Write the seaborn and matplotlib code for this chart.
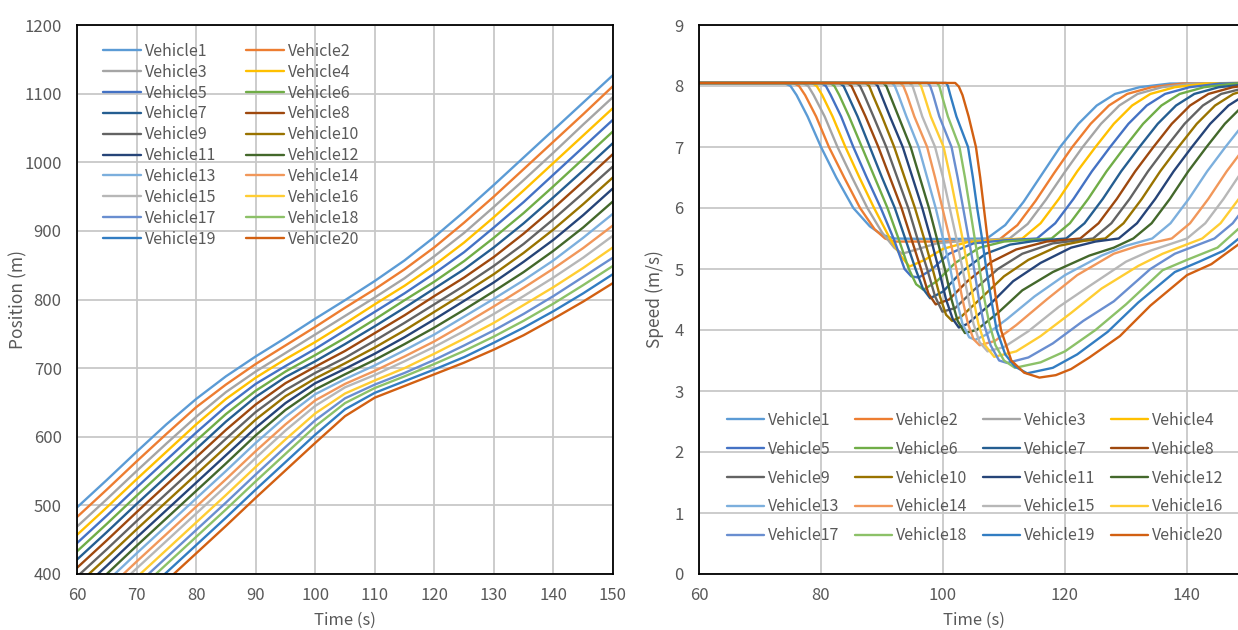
import numpy as np
import pandas as pd
import seaborn as sns
import matplotlib
matplotlib.use("Agg")
from matplotlib import pyplot as plt

# vehicle names and Excel-like colours
vehicles = ["Vehicle%d" % i for i in range(1, 21)]
colors = ["#5B9BD5", "#ED7D31", "#A5A5A5", "#FFC000", "#4472C4", "#70AD47",
          "#255E91", "#9E480E", "#636363", "#997300", "#264478", "#43682B",
          "#7CAFDD", "#F1975A", "#B7B7B7", "#FFCD33", "#698ED0", "#8CC168",
          "#327DC2", "#D26012"]

# position (m) read at these times (s)
pos_time = [60, 65, 70, 75, 80, 85, 90, 95, 100, 105, 110, 115, 120, 125,
            130, 135, 140, 145, 150]
position = [
    [497, 537, 578, 618, 655, 688, 717, 744, 772, 799, 827, 857, 891, 928, 967, 1007, 1047, 1087, 1127],
    [483, 523, 564, 604, 643, 676, 706, 733, 760, 788, 815, 844, 876, 912, 950, 990, 1030, 1070, 1111],
    [469, 509, 550, 590, 629, 665, 695, 722, 749, 776, 803, 831, 863, 897, 935, 974, 1014, 1055, 1095],
    [457, 497, 538, 578, 618, 655, 686, 713, 738, 765, 793, 820, 850, 883, 920, 959, 999, 1039, 1079],
    [445, 485, 526, 566, 606, 644, 677, 703, 728, 755, 782, 809, 838, 869, 905, 942, 982, 1022, 1062],
    [433, 473, 514, 554, 594, 633, 667, 695, 719, 744, 771, 799, 826, 856, 890, 926, 965, 1005, 1045],
    [421, 461, 502, 542, 582, 622, 658, 687, 710, 735, 761, 788, 816, 844, 876, 911, 949, 988, 1028],
    [409, 449, 490, 530, 570, 610, 647, 678, 702, 725, 751, 777, 805, 832, 862, 896, 933, 972, 1012],
    [396, 436, 477, 517, 557, 597, 636, 668, 693, 715, 740, 766, 793, 820, 849, 881, 917, 955, 994],
    [384, 424, 465, 505, 545, 585, 625, 659, 685, 707, 730, 755, 782, 809, 837, 868, 902, 939, 978],
    [372, 412, 453, 493, 533, 573, 613, 649, 678, 699, 721, 745, 771, 798, 825, 855, 887, 923, 962],
    [360, 400, 441, 481, 521, 561, 602, 639, 669, 691, 712, 735, 759, 785, 812, 840, 871, 905, 943],
    [349, 389, 430, 470, 510, 550, 591, 629, 662, 684, 704, 726, 749, 775, 801, 828, 857, 890, 925],
    [337, 377, 418, 458, 498, 538, 579, 618, 653, 677, 696, 717, 739, 764, 790, 817, 845, 875, 908],
    [327, 367, 408, 448, 488, 528, 569, 609, 645, 672, 690, 710, 731, 754, 779, 805, 832, 861, 893],
    [314, 354, 395, 435, 475, 515, 556, 596, 634, 663, 682, 700, 721, 743, 766, 792, 818, 846, 876],
    [303, 343, 384, 424, 464, 504, 545, 585, 624, 656, 676, 693, 712, 733, 755, 779, 805, 833, 861],
    [293, 333, 374, 414, 454, 494, 535, 575, 615, 649, 671, 688, 706, 725, 746, 769, 794, 821, 849],
    [281, 321, 362, 402, 442, 482, 523, 563, 603, 640, 664, 681, 698, 716, 737, 759, 783, 809, 837],
    [269, 309, 350, 390, 430, 470, 511, 551, 591, 630, 657, 674, 691, 708, 727, 748, 772, 797, 824],
]

# speed (m/s): (time, speed) points
speed = [
    [(60, 8.05), (74, 8.05), (75, 8.0), (76, 7.85), (77.8, 7.5), (80, 7.0), (82.5, 6.5), (85.3, 6.0), (88, 5.7), (90, 5.56), (92, 5.5), (100, 5.49), (107.2, 5.5), (110.2, 5.72), (113.2, 6.1), (116.2, 6.55), (119.2, 7.0), (122.2, 7.38), (125.2, 7.68), (128.2, 7.87), (132.2, 7.98), (137.2, 8.04), (150, 8.05)],
    [(60, 8.05), (75.5, 8.05), (76.4, 8.0), (77.4, 7.85), (79.2, 7.5), (81.3, 7.0), (83.8, 6.5), (86.4, 6.0), (88.8, 5.65), (90.5, 5.5), (92, 5.45), (100, 5.45), (109.2, 5.48), (112.2, 5.72), (115.2, 6.12), (118.2, 6.57), (121.2, 7.0), (124.2, 7.38), (127.2, 7.68), (130.2, 7.87), (134.2, 7.98), (139.2, 8.04), (150, 8.05)],
    [(60, 8.05), (77, 8.05), (77.9, 8.0), (78.8, 7.85), (80.6, 7.5), (82.7, 7.0), (85.1, 6.5), (87.6, 6.0), (90, 5.6), (92, 5.35), (93.3, 5.25), (96, 5.33), (99, 5.42), (103, 5.46), (110.9, 5.5), (113.9, 5.74), (116.9, 6.14), (119.9, 6.58), (122.9, 7.0), (125.9, 7.38), (128.9, 7.68), (131.9, 7.87), (135.9, 7.98), (140.9, 8.04), (150, 8.05)],
    [(60, 8.05), (78.5, 8.05), (79.3, 8.0), (80.2, 7.85), (81.9, 7.5), (84, 7.0), (86.3, 6.5), (88.7, 6.0), (91.3, 5.5), (93.2, 5.2), (94.5, 5.04), (97, 5.15), (100, 5.33), (104, 5.44), (113, 5.5), (116, 5.75), (119, 6.15), (122, 6.6), (125, 7.0), (128, 7.38), (131, 7.68), (134, 7.87), (138, 7.98), (143, 8.04), (150, 8.05)],
    [(60, 8.05), (80, 8.05), (80.8, 8.0), (81.6, 7.85), (83.3, 7.5), (85.3, 7.0), (87.5, 6.5), (89.8, 6.0), (91.9, 5.5), (93.7, 5.0), (94.8, 4.88), (96, 4.86), (98, 4.98), (101, 5.25), (105, 5.42), (110, 5.47), (115.4, 5.5), (118.4, 5.75), (121.4, 6.15), (124.4, 6.6), (127.4, 7.0), (130.4, 7.38), (133.4, 7.68), (136.4, 7.87), (140.4, 7.98), (145.4, 8.04), (150, 8.05)],
    [(60, 8.05), (81.5, 8.05), (82.2, 8.0), (83, 7.85), (84.6, 7.5), (86.7, 7.0), (88.8, 6.5), (90.9, 6.0), (92.7, 5.5), (94.4, 5.0), (95.6, 4.75), (96.8, 4.66), (99, 4.8), (102, 5.1), (106, 5.35), (110, 5.45), (117.8, 5.5), (120.8, 5.75), (123.8, 6.15), (126.8, 6.6), (129.8, 7.0), (132.8, 7.38), (135.8, 7.68), (138.8, 7.87), (142.8, 7.98), (147.8, 8.04), (150, 8.05)],
    [(60, 8.05), (83, 8.05), (83.7, 8.0), (84.4, 7.85), (86, 7.5), (88, 7.0), (90, 6.5), (92.1, 6.0), (93.8, 5.5), (95.5, 5.0), (96.7, 4.68), (97.9, 4.52), (100, 4.63), (103, 4.95), (107, 5.25), (111, 5.4), (115, 5.46), (120.2, 5.5), (123.2, 5.75), (126.2, 6.15), (129.2, 6.6), (132.2, 7.0), (135.2, 7.38), (138.2, 7.68), (141.2, 7.87), (145.2, 7.98), (150, 8.03)],
    [(60, 8.05), (84.3, 8.05), (85, 8.0), (85.7, 7.85), (87.3, 7.5), (89.4, 7.0), (91.3, 6.5), (93.2, 6.0), (94.8, 5.5), (96.4, 5.0), (97.6, 4.6), (98.8, 4.42), (101, 4.5), (104, 4.8), (108, 5.12), (112, 5.32), (117, 5.45), (122.5, 5.5), (125.5, 5.75), (128.5, 6.15), (131.5, 6.6), (134.5, 7.0), (137.5, 7.38), (140.5, 7.68), (143.5, 7.87), (147.5, 7.98), (150, 8.01)],
    [(60, 8.05), (85.8, 8.05), (86.4, 8.0), (87.1, 7.85), (88.6, 7.5), (90.7, 7.0), (92.5, 6.5), (94.3, 6.0), (95.8, 5.5), (97.4, 5.0), (98.7, 4.55), (99.9, 4.3), (102, 4.36), (105, 4.65), (109, 5.0), (113, 5.25), (118, 5.42), (124.6, 5.5), (127.6, 5.75), (130.6, 6.15), (133.6, 6.6), (136.6, 7.0), (139.6, 7.38), (142.6, 7.68), (145.6, 7.87), (150, 7.98)],
    [(60, 8.05), (87.3, 8.05), (87.9, 8.0), (88.5, 7.85), (90, 7.5), (92, 7.0), (93.7, 6.5), (95.4, 6.0), (96.9, 5.5), (98.3, 5.0), (99.5, 4.55), (100.5, 4.25), (101.5, 4.15), (103, 4.22), (106, 4.5), (110, 4.88), (114, 5.15), (119, 5.38), (123, 5.46), (126.6, 5.5), (129.6, 5.75), (132.6, 6.15), (135.6, 6.6), (138.6, 7.0), (141.6, 7.38), (144.6, 7.68), (147.6, 7.87), (150, 7.94)],
    [(60, 8.05), (88.8, 8.05), (89.3, 8.0), (89.9, 7.85), (91.3, 7.5), (93.4, 7.0), (95, 6.5), (96.6, 6.0), (98, 5.5), (99.3, 5.0), (100.5, 4.5), (101.6, 4.18), (102.6, 4.04), (104, 4.1), (107.5, 4.4), (111.5, 4.8), (116, 5.1), (121, 5.35), (125, 5.45), (128.8, 5.5), (131.8, 5.75), (134.8, 6.15), (137.8, 6.6), (140.8, 7.0), (143.8, 7.38), (146.8, 7.68), (149.8, 7.87), (150, 7.88)],
    [(60, 8.05), (90.2, 8.05), (90.7, 8.0), (91.3, 7.85), (92.7, 7.5), (94.7, 7.0), (96.2, 6.5), (97.7, 6.0), (99, 5.5), (100.3, 5.0), (101.4, 4.5), (102.4, 4.15), (103.6, 3.95), (105.5, 4.0), (109, 4.28), (113, 4.65), (118, 4.95), (124, 5.22), (128, 5.35), (131.2, 5.5), (134.2, 5.75), (137.2, 6.15), (140.2, 6.6), (143.2, 7.0), (146.2, 7.38), (149.2, 7.68), (150, 7.74)],
    [(60, 8.05), (91.6, 8.05), (92.1, 8.0), (92.7, 7.85), (94, 7.5), (96, 7.0), (97.4, 6.5), (98.8, 6.0), (100, 5.5), (101.2, 5.0), (102.2, 4.5), (103.2, 4.1), (104.3, 3.88), (105.3, 3.84), (107, 3.92), (110.5, 4.18), (115, 4.55), (120, 4.9), (126, 5.22), (130, 5.38), (134.3, 5.5), (137.3, 5.75), (140.3, 6.15), (143.3, 6.6), (146.3, 7.0), (149.3, 7.38), (150, 7.45)],
    [(60, 8.05), (93, 8.05), (93.5, 8.0), (94.1, 7.85), (95.3, 7.5), (97.4, 7.0), (98.7, 6.5), (99.9, 6.0), (101.1, 5.5), (102.2, 5.0), (103.2, 4.5), (104.1, 4.1), (105, 3.85), (106, 3.75), (108.5, 3.82), (112, 4.08), (117, 4.5), (122, 4.9), (128, 5.25), (132, 5.38), (137.5, 5.5), (140.5, 5.75), (143.5, 6.15), (146.5, 6.6), (149.5, 7.0), (150, 7.06)],
    [(60, 8.05), (94.5, 8.05), (95, 8.0), (95.5, 7.85), (96.6, 7.5), (98.7, 7.0), (100, 6.5), (101.1, 6.0), (102.2, 5.5), (103.2, 5.0), (104.2, 4.5), (105, 4.1), (106, 3.8), (107.3, 3.65), (110, 3.72), (114, 3.98), (119, 4.38), (124, 4.72), (130, 5.12), (134, 5.3), (140, 5.5), (143, 5.75), (146, 6.15), (149, 6.6), (150, 6.73)],
    [(60, 8.05), (96, 8.05), (96.4, 8.0), (96.9, 7.85), (98, 7.5), (100.1, 7.0), (101.2, 6.5), (102.2, 6.0), (103.2, 5.5), (104.1, 5.0), (105, 4.5), (105.8, 4.1), (106.9, 3.75), (108.4, 3.56), (112, 3.65), (116, 3.9), (121, 4.28), (126, 4.68), (132, 5.05), (136, 5.25), (142.5, 5.5), (145.5, 5.75), (148.5, 6.15), (150, 6.37)],
    [(60, 8.05), (97.5, 8.05), (97.9, 8.0), (98.4, 7.85), (99.4, 7.5), (101.4, 7.0), (102.4, 6.5), (103.3, 6.0), (104.2, 5.5), (105.1, 5.0), (105.9, 4.5), (106.7, 4.1), (107.8, 3.75), (109.2, 3.5), (110.5, 3.46), (114, 3.55), (118, 3.78), (123, 4.15), (128, 4.47), (134, 5.0), (138, 5.25), (144.5, 5.5), (147.5, 5.75), (150, 6.08)],
    [(60, 8.05), (99, 8.05), (99.4, 8.0), (99.8, 7.85), (100.8, 7.5), (102.7, 7.0), (103.6, 6.5), (104.4, 6.0), (105.2, 5.5), (106, 5.0), (106.8, 4.5), (107.6, 4.1), (108.6, 3.75), (110, 3.5), (111.8, 3.38), (116, 3.47), (120, 3.65), (125, 4.0), (130, 4.42), (136, 4.98), (140, 5.15), (145, 5.35), (150, 5.8)],
    [(60, 8.05), (100.5, 8.05), (100.8, 8.0), (101.2, 7.85), (102.2, 7.5), (104.1, 7.0), (104.9, 6.5), (105.6, 6.0), (106.4, 5.5), (107.1, 5.0), (107.9, 4.5), (108.8, 4.0), (110.2, 3.6), (111.8, 3.4), (113.8, 3.29), (118, 3.38), (122, 3.6), (127, 3.97), (132, 4.45), (138, 4.95), (142, 5.12), (146, 5.3), (150, 5.62)],
    [(60, 8.05), (102, 8.05), (102.6, 7.99), (103.2, 7.85), (104.2, 7.5), (105.4, 7.0), (106.1, 6.5), (106.7, 6.0), (107.3, 5.5), (108, 5.0), (108.7, 4.5), (109.5, 4.0), (111.2, 3.5), (113.3, 3.3), (115.8, 3.22), (118.5, 3.26), (121, 3.36), (124, 3.55), (129, 3.9), (134, 4.4), (140, 4.9), (144, 5.08), (148.4, 5.4), (150, 5.55)],
]

pos_df = pd.DataFrame([(name, t, p) for name, row in zip(vehicles, position)
                       for t, p in zip(pos_time, row)],
                      columns=["vehicle", "t", "pos"])
spd_df = pd.DataFrame([(name, t, v) for name, pts in zip(vehicles, speed)
                       for t, v in pts],
                      columns=["vehicle", "t", "v"])

sns.set_style("white")
plt.rcParams["font.family"] = ["Noto Sans CJK JP", "DejaVu Sans"]
tick_col = "#595959"
grid_col = "#C8C8C8"
palette = dict(zip(vehicles, colors))

fig = plt.figure(figsize=(12.38, 6.3), dpi=100)
ax1 = fig.add_axes([77 / 1238, 56 / 630, 536 / 1238, 549 / 630])
ax2 = fig.add_axes([699 / 1238, 56 / 630, 549 / 1238, 549 / 630])

sns.lineplot(data=pos_df, x="t", y="pos", hue="vehicle", hue_order=vehicles,
             palette=palette, estimator=None, sort=False, linewidth=1.7,
             legend=False, ax=ax1)
sns.lineplot(data=spd_df, x="t", y="v", hue="vehicle", hue_order=vehicles,
             palette=palette, estimator=None, sort=False, linewidth=1.7,
             legend=False, ax=ax2)

ax1.set_xlim(60, 150)
ax1.set_ylim(400, 1200)
ax1.set_xticks(range(60, 151, 10))
ax1.set_yticks(range(400, 1201, 100))
ax2.set_xlim(60, 150)
ax2.set_ylim(0, 9)
ax2.set_xticks(range(60, 141, 20))
ax2.set_yticks(range(0, 10))

for ax in (ax1, ax2):
    ax.grid(True, color=grid_col, linewidth=1.3)
    ax.set_axisbelow(True)
    for sp in ax.spines.values():
        sp.set_color("black")
        sp.set_linewidth(1.3)
    ax.tick_params(length=0, labelsize=12, colors=tick_col, pad=11)
    ax.tick_params(axis="x", pad=9)
    ax.set_xlabel("Time (s)", fontsize=12, color=tick_col, labelpad=6)

ax1.set_ylabel("Position (m)", fontsize=12.5, color=tick_col)
ax1.yaxis.set_label_coords((27 - 77) / 536, 0.5)
ax2.set_ylabel("Speed (m/s)", fontsize=12.5, color=tick_col)
ax2.yaxis.set_label_coords((664 - 699) / 549, 0.5)

# legends are filled row by row, as in the original
lines1 = ax1.get_lines()[:20]
order1 = [r * 2 + c for c in range(2) for r in range(10)]
ax1.legend([lines1[i] for i in order1], [vehicles[i] for i in order1],
           ncol=2, loc="upper left", frameon=False,
           bbox_to_anchor=(103 / 1238, 1 - 43 / 630), bbox_transform=fig.transFigure,
           borderpad=0, borderaxespad=0, fontsize=11.5, labelcolor=tick_col,
           handlelength=2.4, handletextpad=0.25, labelspacing=0.24,
           columnspacing=1.8)
lines2 = ax2.get_lines()[:20]
order2 = [r * 4 + c for c in range(4) for r in range(5)]
ax2.legend([lines2[i] for i in order2], [vehicles[i] for i in order2],
           ncol=4, loc="upper left", frameon=False,
           bbox_to_anchor=(727 / 1238, 1 - 412 / 630), bbox_transform=fig.transFigure,
           borderpad=0, borderaxespad=0, fontsize=11.5, labelcolor=tick_col,
           handlelength=2.3, handletextpad=0.25, labelspacing=0.74,
           columnspacing=1.0)

fig.savefig("out.png", dpi=100)
plt.close(fig)
